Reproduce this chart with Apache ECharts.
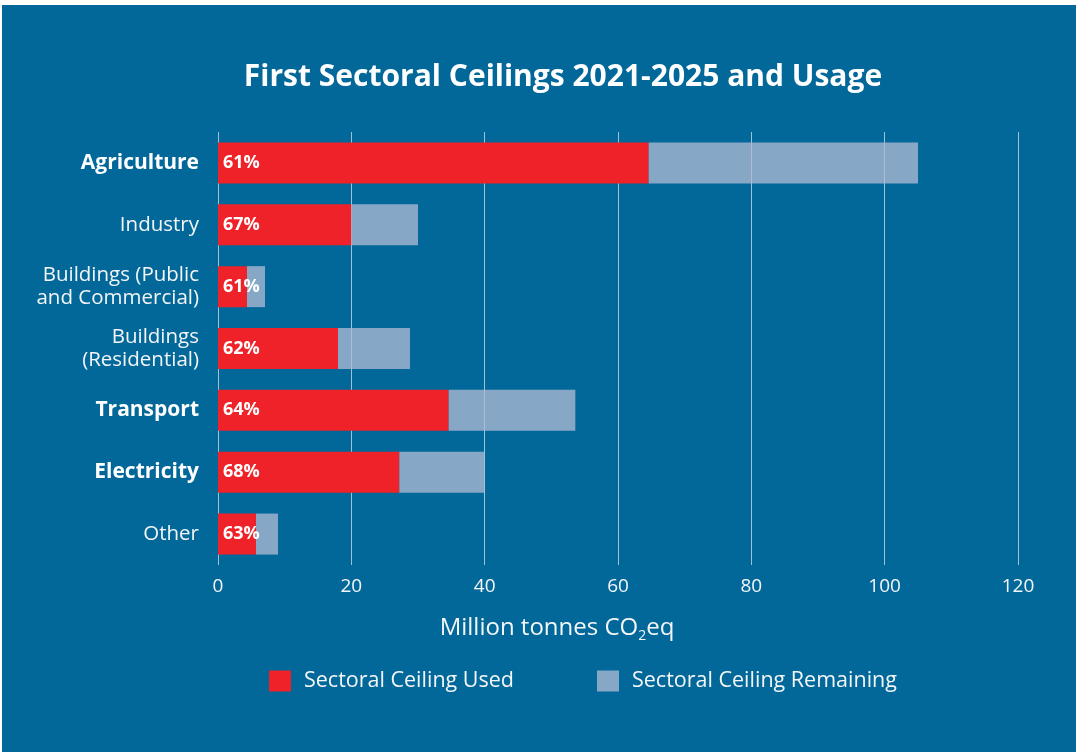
<!DOCTYPE html>
<html>
<head>
<meta charset="utf-8">
<script src="https://cdn.jsdelivr.net/npm/echarts@6/dist/echarts.min.js"></script>
<style>
    html, body { margin: 0; padding: 0; background: #fff; }
    #chart { position: absolute; left: 2px; top: 5px; width: 1074px; height: 747px; }
</style>
</head>
<body>
<div id="chart"></div>
<script>
// sectors, top to bottom
var categories = ['Agriculture', 'Industry', 'Buildings (Public\nand Commercial)', 'Buildings\n(Residential)', 'Transport', 'Electricity', 'Other'];
var boldCats = ['Agriculture', 'Transport', 'Electricity'];
// Mt CO2eq
var usedValues = [64.6, 20.0, 4.35, 18.0, 34.6, 27.2, 5.7];
var remainingValues = [40.4, 10.0, 2.7, 10.8, 19.0, 12.8, 3.3];
var usedPct = ['61%', '67%', '61%', '62%', '64%', '68%', '63%'];
var xTicks = [0, 20, 40, 60, 80, 100, 120];

var fontFam = '"Open Sans", "Noto Sans", sans-serif';
var txtColor = '#f4f6f8';

var myChart = echarts.init(document.getElementById('chart'));

var option = {
    backgroundColor: '#02689a',
    textStyle: { fontFamily: fontFam },
    title: {
        text: 'First Sectoral Ceilings 2021-2025 and Usage',
        left: 556,
        textAlign: 'center',
        top: 52,
        textStyle: { color: '#ffffff', fontSize: 30, fontWeight: 'bold', fontFamily: fontFam }
    },
    legend: [
        {
            data: ['Sectoral Ceiling Used'],
            left: 262, top: 660,
            icon: 'rect', itemWidth: 22, itemHeight: 21,
            selectedMode: false,
            textStyle: { color: txtColor, fontSize: 21.5, padding: [0, 0, 0, 8], fontFamily: fontFam }
        },
        {
            data: ['Sectoral Ceiling Remaining'],
            left: 590, top: 660,
            icon: 'rect', itemWidth: 22, itemHeight: 21,
            selectedMode: false,
            textStyle: { color: txtColor, fontSize: 21.5, padding: [0, 0, 0, 8], fontFamily: fontFam }
        }
    ],
    grid: {
        left: 216,
        top: 127,
        width: 800,
        height: 433,
        containLabel: false
    },
    xAxis: {
        type: 'value',
        min: 0,
        max: 120,
        interval: 20,
        axisLine: { show: false },
        axisTick: { show: false },
        splitLine: { show: true, lineStyle: { color: 'rgba(225,232,240,0.7)', width: 1 } },
        axisLabel: {
            color: txtColor, fontSize: 19, margin: 12, fontFamily: fontFam,
            formatter: function (v) { return xTicks.indexOf(v) > -1 ? String(v) : ''; }
        },
        name: '{n|Million tonnes CO}{s|2}{n|eq}',
        nameLocation: 'middle',
        nameGap: 48,
        nameTextStyle: {
            padding: [0, 122, 0, 0],
            rich: {
                n: { color: txtColor, fontSize: 24, fontFamily: fontFam, lineHeight: 30 },
                s: { color: txtColor, fontSize: 14, fontFamily: fontFam, lineHeight: 30, verticalAlign: 'bottom' }
            }
        }
    },
    yAxis: {
        type: 'category',
        inverse: true,
        data: categories,
        axisLine: { show: false },
        axisTick: { show: false },
        axisLabel: {
            margin: 19,
            formatter: function (v) {
                return boldCats.indexOf(v) > -1 ? '{b|' + v + '}' : '{r|' + v.split('\n').join('}\n{r|') + '}';
            },
            rich: {
                b: { color: '#ffffff', fontSize: 21, fontWeight: 'bold', fontFamily: fontFam, lineHeight: 23, align: 'right' },
                r: { color: txtColor, fontSize: 20.5, fontFamily: fontFam, lineHeight: 23, align: 'right' }
            }
        }
    },
    series: [
        {
            name: 'Sectoral Ceiling Used',
            type: 'bar',
            stack: 'total',
            barWidth: 41,
            itemStyle: { color: '#ee2228' },
            label: {
                show: true,
                position: 'insideLeft',
                distance: 5,
                color: '#ffffff',
                fontSize: 18,
                fontWeight: 'bold',
                fontFamily: fontFam,
                formatter: function (p) { return usedPct[p.dataIndex]; }
            },
            data: usedValues
        },
        {
            name: 'Sectoral Ceiling Remaining',
            type: 'bar',
            stack: 'total',
            barWidth: 41,
            itemStyle: { color: 'rgba(177,186,212,0.76)' },
            data: remainingValues
        }
    ]
};

myChart.setOption(option);
</script>
</body>
</html>
